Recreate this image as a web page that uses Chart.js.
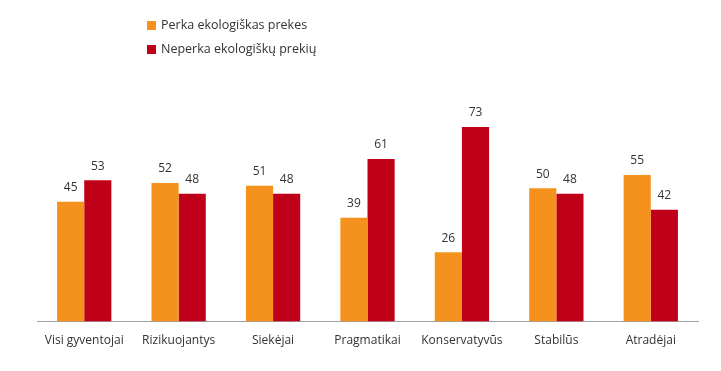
<!DOCTYPE html>
<html>
<head>
<meta charset="utf-8">
<script src="https://cdn.jsdelivr.net/npm/chart.js@4"></script>
<style>
  html, body { margin: 0; padding: 0; background: #fff; }
  #wrap { width: 721px; height: 371px; position: relative; }
</style>
</head>
<body>
<div id="wrap"><canvas id="ecoChart" width="721" height="371"></canvas></div>
<script>
const categories = ["Visi gyventojai", "Rizikuojantys", "Siekėjai", "Pragmatikai", "Konservatyvūs", "Stabilūs", "Atradėjai"];
const buyers = [45, 52, 51, 39, 26, 50, 55];
const nonBuyers = [53, 48, 48, 61, 73, 48, 42];
const seriesNames = ["Perka ekologiškas prekes", "Neperka ekologiškų prekių"];

const ORANGE = "#F5921E";
const RED = "#C00018";
const FONT = "'Open Sans', sans-serif";

// value labels above each bar
const valueLabels = {
  id: "valueLabels",
  afterDatasetsDraw(chart) {
    const ctx = chart.ctx;
    ctx.save();
    ctx.font = "12px " + FONT;
    ctx.fillStyle = "#333";
    ctx.textAlign = "center";
    ctx.textBaseline = "middle";
    chart.data.datasets.forEach((ds, i) => {
      chart.getDatasetMeta(i).data.forEach((bar, j) => {
        ctx.fillText(ds.data[j], bar.x, bar.y - 14);
      });
    });
    ctx.restore();
  }
};

// legend stacked in the top left
const stackedLegend = {
  id: "stackedLegend",
  afterDraw(chart) {
    const ctx = chart.ctx;
    ctx.save();
    ctx.font = "12.5px " + FONT;
    ctx.textBaseline = "middle";
    chart.data.datasets.forEach((ds, i) => {
      const y = 25 + i * 24;
      ctx.fillStyle = ds.backgroundColor;
      ctx.fillRect(147, y - 4, 9, 9);
      ctx.fillStyle = "#333";
      ctx.fillText(ds.label, 161, y);
    });
    ctx.restore();
  }
};

new Chart(document.getElementById("ecoChart"), {
  type: "bar",
  data: {
    labels: categories,
    datasets: [
      { label: seriesNames[0], data: buyers, backgroundColor: ORANGE, borderWidth: 0 },
      { label: seriesNames[1], data: nonBuyers, backgroundColor: RED, borderWidth: 0 }
    ]
  },
  options: {
    responsive: false,
    animation: false,
    layout: {
      padding: { left: 37, right: 23, top: 55, bottom: 11 }
    },
    plugins: {
      legend: { display: false },
      tooltip: { enabled: false }
    },
    datasets: {
      bar: { categoryPercentage: 0.575, barPercentage: 1.0 }
    },
    scales: {
      x: {
        grid: { display: false, drawTicks: false },
        border: { display: true, color: "#a0a0a0", width: 1 },
        ticks: { color: "#333", font: { family: FONT, size: 12 }, padding: 12, maxRotation: 0, autoSkip: false }
      },
      y: {
        display: false,
        min: 0,
        max: 100
      }
    }
  },
  plugins: [valueLabels, stackedLegend]
});
</script>
</body>
</html>
